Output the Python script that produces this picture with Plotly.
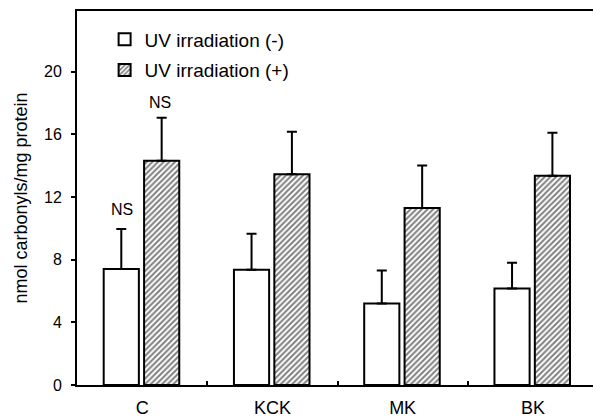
import plotly.graph_objects as go

categories = ["C", "KCK", "MK", "BK"]
uv_minus = [7.4, 7.35, 5.2, 6.15]
uv_minus_err = [2.55, 2.3, 2.1, 1.65]
uv_plus = [14.3, 13.45, 11.3, 13.35]
uv_plus_err = [2.75, 2.7, 2.7, 2.75]
ns_labels = ["NS", "NS"]

FONT = "Liberation Sans, Arial, sans-serif"

fig = go.Figure()
fig.add_trace(go.Bar(
    x=categories, y=uv_minus, name="UV irradiation (-)", legendgroup="a",
    width=0.27, offset=-0.295,
    marker=dict(color="white", line=dict(color="black", width=2)),
    error_y=dict(type="data", array=uv_minus_err, arrayminus=[0]*4, symmetric=False,
                 color="black", thickness=2, width=5),
))
fig.add_trace(go.Bar(
    x=categories, y=uv_plus, name="UV irradiation (+)", legendgroup="b",
    width=0.27, offset=0.015,
    marker=dict(color="white", line=dict(color="black", width=2),
                pattern=dict(shape="/", fgcolor="black", bgcolor="white", size=4, solidity=0.5)),
    error_y=dict(type="data", array=uv_plus_err, arrayminus=[0]*4, symmetric=False,
                 color="black", thickness=2, width=5),
))

# NS annotations above C bars
fig.add_annotation(x=0, xshift=-20, y=uv_minus[0] + uv_minus_err[0], yshift=20,
                   text=ns_labels[0], showarrow=False, font=dict(size=16, family=FONT, color="black"))
fig.add_annotation(x=0, xshift=18, y=uv_plus[0] + uv_plus_err[0], yshift=15,
                   text=ns_labels[1], showarrow=False, font=dict(size=16, family=FONT, color="black"))

fig.update_layout(
    width=593, height=411,
    margin=dict(l=69, r=1, t=3, b=31),
    paper_bgcolor="white", plot_bgcolor="white",
    barmode="overlay",
    showlegend=True,
    legend=dict(x=0.053, y=0.975, xanchor="left", yanchor="top",
                font=dict(size=19, family=FONT, color="black"),
                bgcolor="rgba(0,0,0,0)", itemwidth=30, tracegroupgap=3),
    font=dict(family=FONT, color="black"),
)
fig.update_xaxes(
    range=[-0.5, 3.5], tickson="boundaries", ticks="inside", ticklen=4,
    tickcolor="black", tickwidth=2, showline=True, linecolor="black", linewidth=2,
    mirror=True, showgrid=False, tickfont=dict(size=18, family=FONT, color="black"),
    ticklabelstandoff=5,
)
fig.update_yaxes(
    range=[0, 23.86], tickvals=[0, 4, 8, 12, 16, 20], ticks="outside", ticklen=4,
    tickcolor="black", tickwidth=1.5, showline=True, linecolor="black", linewidth=2,
    mirror=True, showgrid=False, zeroline=False, ticklabelstandoff=6,
    tickfont=dict(size=16, family=FONT, color="black"),
    title=dict(text="nmol carbonyls/mg protein", font=dict(size=18, family=FONT, color="black"), standoff=12),
)

fig.write_html("out.html")
